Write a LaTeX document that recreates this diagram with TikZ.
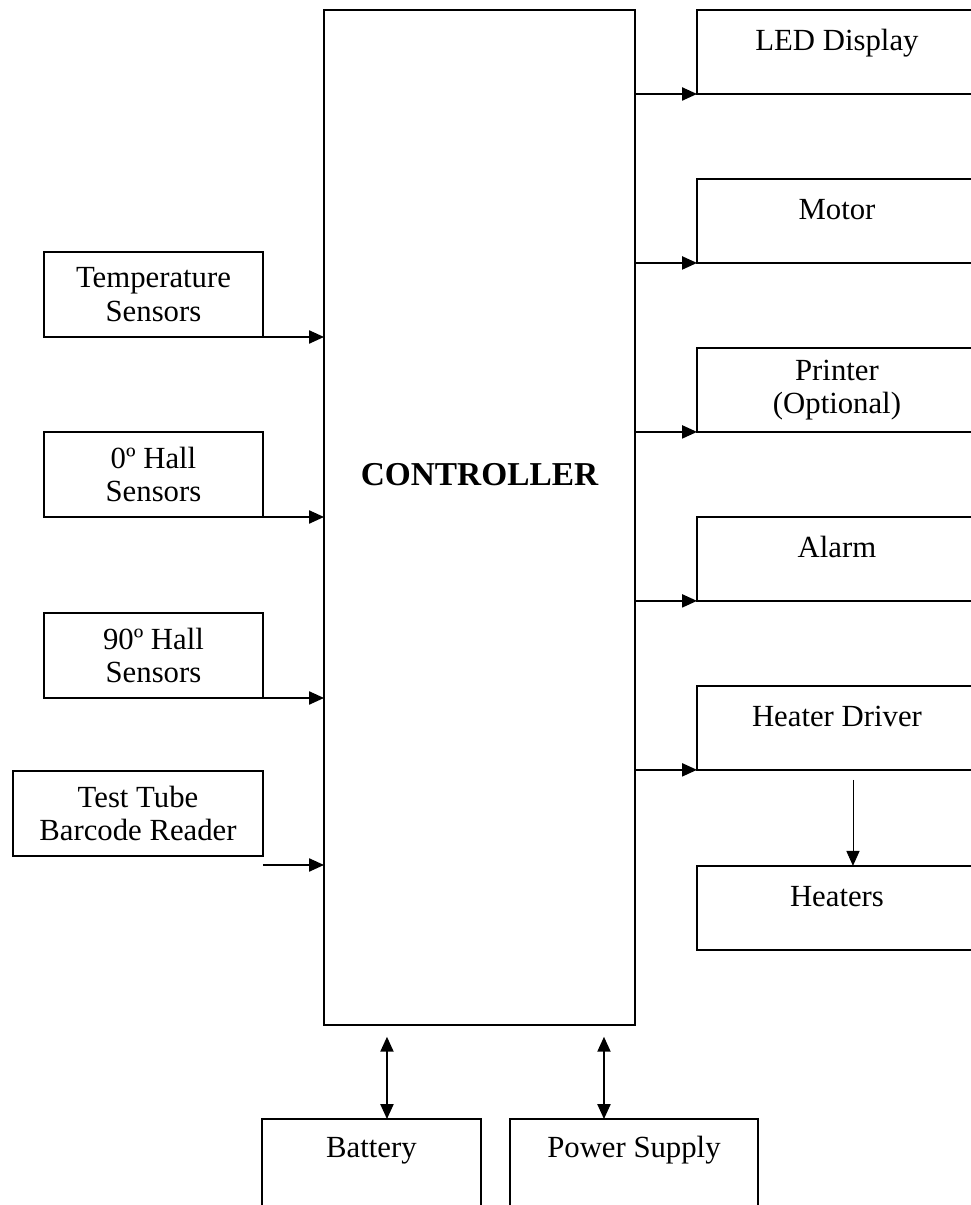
\documentclass[tikz,border=0pt]{standalone}
\usepackage{fontspec}
\setmainfont{Liberation Serif}
\usetikzlibrary{arrows.meta,positioning}

\begin{document}
\begin{tikzpicture}[
    x=0.02cm, y=-0.02cm,
    node distance=1.7cm,
    font=\fontsize{17.5}{19}\selectfont,
    box/.style={draw,line width=0.9pt,align=center,outer sep=0pt,inner sep=0pt},
    inbox/.style={box,minimum width=4.38cm,minimum height=1.7cm,anchor=north west},
    outbox/.style={box,minimum width=5.6cm,minimum height=1.68cm,anchor=north west},
    onel/.style={text height=0.45cm,text depth=0.5cm},
    pwrbox/.style={box,minimum height=1.8cm,anchor=north west,text height=0.45cm,text depth=0.73cm},
    arr/.style={-{Triangle[length=8.5pt,width=7.5pt]},line width=0.9pt},
    dbl/.style={{Triangle[length=8.5pt,width=7.5pt]}-{Triangle[length=8.5pt,width=7.5pt]},line width=0.9pt}
]
\useasboundingbox (0,0) rectangle (971,1205);
\clip (0,0) rectangle (971,1205);

\node[box,anchor=north west,minimum width=6.22cm,minimum height=20.3cm,
      font=\fontsize{19}{22}\selectfont\bfseries,text height=0.45cm,text depth=1.71cm] (ctrl) at (324,10) {CONTROLLER};

% inputs
\node[inbox] (temp) at (44,252) {Temperature\\Sensors};
\node[inbox] (hall0) at (44,432) {0º Hall\\Sensors};
\node[inbox] (hall90) at (44,613) {90º Hall\\Sensors};
\node[inbox,minimum width=5cm] (tube) at (13,771) {Test Tube\\Barcode Reader};

% outputs
\node[outbox,onel] (led) at (697,10) {LED Display};
\node[outbox,onel,below=of led] (motor) {Motor};
\node[outbox,below=of motor] (printer) {Printer\\(Optional)};
\node[outbox,onel,below=of printer] (alarm) {Alarm};
\node[outbox,onel,below=of alarm] (hdrv) {Heater Driver};
\node[outbox,onel,below=1.92cm of hdrv] (heat) {Heaters};

% power
\node[pwrbox,minimum width=4.38cm] (bat) at (262,1119) {Battery};
\node[pwrbox,minimum width=4.96cm] (psu) at (510,1119) {Power Supply};

\draw[arr] (temp.south east) -- (temp.south east -| ctrl.west);
\draw[arr] (hall0.south east) -- (hall0.south east -| ctrl.west);
\draw[arr] (hall90.south east) -- (hall90.south east -| ctrl.west);
\coordinate (tubeout) at ([yshift=-0.18cm]tube.south east);
\draw[arr] (tubeout) -- (tubeout -| ctrl.west);

\draw[arr] (led.south west -| ctrl.east) -- (led.south west);
\draw[arr] (motor.south west -| ctrl.east) -- (motor.south west);
\draw[arr] (printer.south west -| ctrl.east) -- (printer.south west);
\draw[arr] (alarm.south west -| ctrl.east) -- (alarm.south west);
\draw[arr] (hdrv.south west -| ctrl.east) -- (hdrv.south west);
\draw[arr,line width=0.5pt] ([xshift=0.32cm,yshift=-0.2cm]hdrv.south) -- ([xshift=0.32cm]heat.north);

\draw[dbl] ([xshift=0.31cm,yshift=-0.24cm]bat.north |- ctrl.south) -- ([xshift=0.31cm]bat.north);
\draw[dbl] ([xshift=-0.6cm,yshift=-0.24cm]psu.north |- ctrl.south) -- ([xshift=-0.6cm]psu.north);
\end{tikzpicture}
\end{document}
